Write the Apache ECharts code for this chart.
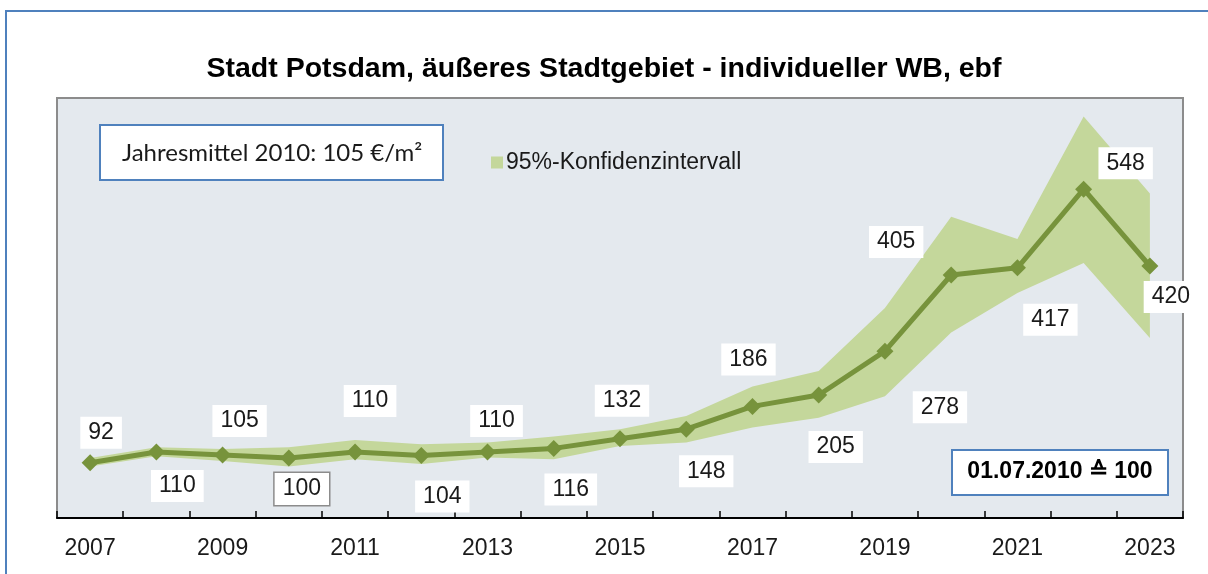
<!DOCTYPE html>
<html>
<head>
<meta charset="utf-8">
<title>Stadt Potsdam</title>
<script src="https://cdn.jsdelivr.net/npm/echarts@6/dist/echarts.min.js"></script>
<style>
  html, body { margin: 0; padding: 0; background: #fff; }
  #chart { width: 1208px; height: 574px; }
</style>
</head>
<body>
<div id="chart"></div>
<script>
  // Jahre und Indexwerte (01.07.2010 = 100)
  var years = ['2007', '2008', '2009', '2010', '2011', '2012', '2013', '2014', '2015',
               '2016', '2017', '2018', '2019', '2020', '2021', '2022', '2023'];
  var indexValues = [92, 110, 105, 100, 110, 104, 110, 116, 132, 148, 186, 205, 278, 405, 417, 548, 420];
  // 95%-Konfidenzintervall, untere und obere Grenze
  var ciLower = [86, 103, 95, 86, 98, 90, 101, 98, 120, 126, 151, 167, 203, 309, 375, 425, 300];
  var ciUpper = [100, 118, 115, 118, 130, 123, 126, 136, 148, 170, 219, 245, 350, 502, 465, 669, 541];

  // Verschiebung der Werte-Beschriftungen gegenüber dem Punkt
  var labelOffsets = [[11, -30], [21, 34], [17, -34], [13, 31], [15, -51], [21, 41], [9, -31],
                      [17, 41], [2, -38], [20, 42], [-4, -47], [17, 52], [55, 56], [-55, -33],
                      [33, 52], [42, -26], [21, 31]];

  var green = '#77933c';
  var bandColor = '#c4d79b';
  var blue = '#4f81bd';

  var chart = echarts.init(document.getElementById('chart'));

  var pointData = indexValues.map(function (v, i) {
    var lbl = { offset: labelOffsets[i] };
    if (years[i] === '2010') {
      lbl.borderColor = '#8c8c8c';
      lbl.borderWidth = 1.5;
    }
    return { value: v, label: lbl };
  });

  chart.setOption({
    animation: false,
    title: {
      text: 'Stadt Potsdam, äußeres Stadtgebiet - individueller WB, ebf',
      left: 'center',
      top: 50,
      textStyle: { fontFamily: 'Liberation Sans', fontWeight: 'bold', fontSize: 28.5, color: '#000' }
    },
    legend: {
      left: 486,
      top: 146,
      icon: 'rect',
      itemWidth: 12,
      itemHeight: 12,
      itemGap: 6,
      data: ['95%-Konfidenzintervall'],
      textStyle: { fontFamily: 'Liberation Sans', fontSize: 23, color: '#1a1a1a', padding: [0, 0, 0, -2] }
    },
    grid: {
      left: 57,
      right: 25,
      top: 98,
      bottom: 56,
      show: true,
      backgroundColor: '#e4e9ee',
      borderColor: '#8c8c8c',
      borderWidth: 2
    },
    xAxis: {
      type: 'category',
      data: years,
      boundaryGap: true,
      axisLine: { lineStyle: { color: '#000', width: 2 } },
      axisTick: { show: true, inside: true, length: 7, interval: 0, lineStyle: { color: '#000', width: 1.5 } },
      axisLabel: { interval: 1, margin: 19, fontFamily: 'Liberation Sans', fontSize: 23, color: '#1a1a1a' }
    },
    yAxis: {
      type: 'value',
      min: 0,
      max: 700,
      show: false
    },
    graphic: [
      {
        type: 'rect',
        z: -10,
        shape: { x: 6, y: 11, width: 1230, height: 620 },
        style: { fill: 'none', stroke: blue, lineWidth: 2 }
      },
      {
        type: 'rect',
        z: 100,
        shape: { x: 100, y: 125, width: 343, height: 55 },
        style: { fill: '#fff', stroke: blue, lineWidth: 2 }
      },
      {
        type: 'text',
        z: 101,
        x: 122,
        y: 153,
        style: {
          text: 'Jahresmittel 2010: 105 €/m²',
          fontFamily: 'Lato',
          fontSize: 24,
          fill: '#1a1a1a',
          verticalAlign: 'middle'
        }
      },
      {
        type: 'rect',
        z: 100,
        shape: { x: 952, y: 450, width: 216, height: 45 },
        style: { fill: '#fff', stroke: blue, lineWidth: 2 }
      },
      {
        type: 'text',
        z: 101,
        x: 1060,
        y: 472,
        style: {
          text: '01.07.2010 ≙ 100',
          fontFamily: 'Liberation Sans',
          fontWeight: 'bold',
          fontSize: 23,
          fill: '#000',
          align: 'center',
          verticalAlign: 'middle'
        }
      }
    ],
    series: [
      {
        name: 'ciLower',
        type: 'line',
        stack: 'ci',
        data: ciLower,
        symbol: 'none',
        silent: true,
        lineStyle: { width: 0, opacity: 0 }
      },
      {
        name: '95%-Konfidenzintervall',
        type: 'line',
        stack: 'ci',
        data: ciUpper.map(function (u, i) { return u - ciLower[i]; }),
        symbol: 'none',
        silent: true,
        itemStyle: { color: bandColor },
        lineStyle: { width: 0, opacity: 0 },
        areaStyle: { color: bandColor, opacity: 1 }
      },
      {
        name: 'Index',
        type: 'line',
        data: pointData,
        symbol: 'diamond',
        symbolSize: 17,
        itemStyle: { color: green },
        lineStyle: { color: green, width: 5 },
        z: 5,
        label: {
          show: true,
          position: 'inside',
          fontFamily: 'Liberation Sans',
          fontSize: 23,
          color: '#1a1a1a',
          backgroundColor: '#fff',
          padding: [5, 8, 4, 8]
        }
      }
    ]
  });
</script>
</body>
</html>
